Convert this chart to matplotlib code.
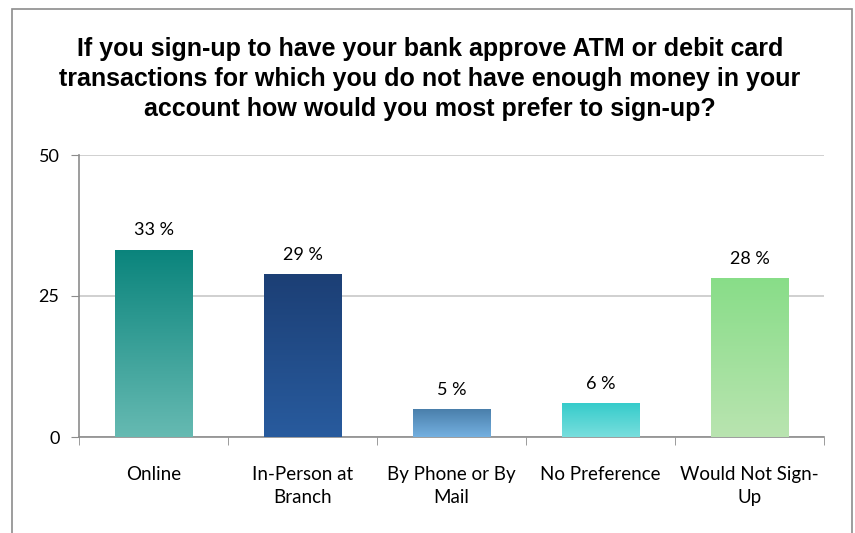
import matplotlib
matplotlib.use("Agg")
import matplotlib.pyplot as plt
import numpy as np
from matplotlib.colors import LinearSegmentedColormap
from matplotlib.patches import Rectangle

categories = ["Online", "In-Person at\nBranch", "By Phone or By\nMail", "No Preference", "Would Not Sign-\nUp"]
values = [33, 29, 5, 6, 28]
heights = [33.2, 28.9, 4.9, 6.0, 28.2]
# gradient colours, top then bottom
top_colors = ["#0a847c", "#1c3f75", "#4a7fab", "#36cccb", "#88dd88"]
bottom_colors = ["#66bab2", "#285b9e", "#74b0e0", "#78dedd", "#b9e4b0"]
title = ("If you sign-up to have your bank approve ATM or debit card\n"
         "transactions for which you do not have enough money in your\n"
         "account how would you most prefer to sign-up?")

fig = plt.figure(figsize=(8.55, 5.33), dpi=100)
ax = fig.add_axes([79 / 855, 1 - 437 / 533, 745 / 855, 282 / 533])

# outer chart border (bottom edge is off the image)
fig.patches.append(Rectangle((12 / 855, -0.1), 840 / 855, 1.1 - 9 / 533, transform=fig.transFigure,
                             fill=False, edgecolor="#8c8c8c", linewidth=1.2))

fig.text(430 / 855, 1 - 79 / 533, title, ha="center", va="center", fontsize=18, fontweight="bold",
         family="Liberation Sans", linespacing=1.3)

x = np.arange(len(categories))
bars = ax.bar(x, heights, width=0.52, color="none", edgecolor="none", zorder=3)
for b, c1, c2, v in zip(bars, top_colors, bottom_colors, values):
    cmap = LinearSegmentedColormap.from_list("g", [c1, c2])
    x0, y0 = b.get_x(), b.get_y()
    w, h = b.get_width(), b.get_height()
    grad = np.linspace(0, 1, 256).reshape(-1, 1)
    im = ax.imshow(grad, cmap=cmap, aspect="auto", extent=(x0, x0 + w, y0, y0 + h),
                   origin="upper", zorder=3)
    im.set_clip_path(b)
    ax.text(x0 + w / 2, h + 2.0, "%d %%" % v, ha="center", va="bottom", fontsize=13, family="Lato")

ax.set_xlim(-0.5, len(categories) - 0.5)
ax.set_ylim(0, 50)
ax.set_yticks([0, 25, 50])
ax.set_yticklabels(["0", "25", "50"], fontsize=13, family="Lato")
ax.set_xticks(x)
ax.set_xticklabels(categories, fontsize=13.5, family="Lato", linespacing=1.4)
ax.set_xticks(np.arange(-0.5, len(categories)), minor=True)
ax.tick_params(axis="x", which="major", length=0, pad=21)
ax.tick_params(axis="x", which="minor", length=6, color="#8c8c8c", direction="out")
ax.tick_params(axis="y", length=6, color="#8c8c8c", pad=8)
ax.yaxis.grid(True, color="#c8c8c8", linewidth=1.2, zorder=0)
ax.set_axisbelow(True)
for s in ["top", "right"]:
    ax.spines[s].set_visible(False)
for s in ["left", "bottom"]:
    ax.spines[s].set_color("#8c8c8c")
    ax.spines[s].set_linewidth(1.2)

fig.savefig("out.png", dpi=100)
